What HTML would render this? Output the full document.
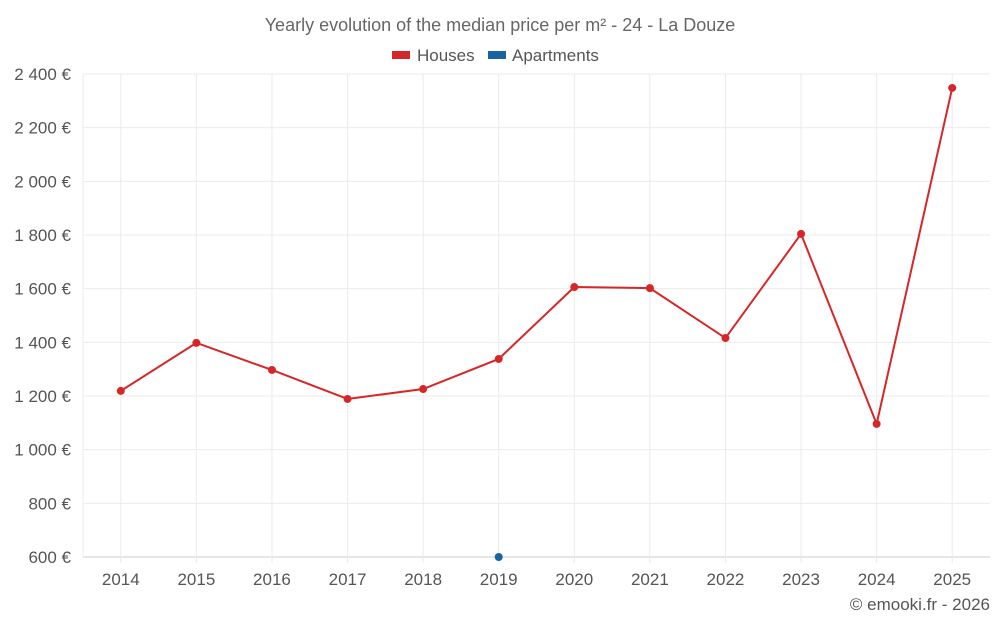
<!DOCTYPE html>
<html><head><meta charset="utf-8"><style>
body{margin:0;background:#fff;font-family:"Liberation Sans",sans-serif;}
svg text{font-family:"Liberation Sans",sans-serif;}
</style></head><body>
<svg id="c" width="1000" height="625">
<text x="500" y="31" text-anchor="middle" font-size="18" fill="#666">Yearly evolution of the median price per m² - 24 - La Douze</text>
<g>
<rect x="392" y="51" width="18" height="8" fill="#d62728"/>
<text x="417" y="61" font-size="17" fill="#555">Houses</text>
<rect x="488" y="51" width="18" height="8" fill="#1764a0"/>
<text x="512" y="61" font-size="17" fill="#555">Apartments</text>
</g>
<g id="grid"></g><g id="axes"></g><g id="marks"></g>
<text x="990" y="610" text-anchor="end" font-size="17" fill="#555">© emooki.fr - 2026</text>
</svg>
<script>
const categories=["2014","2015","2016","2017","2018","2019","2020","2021","2022","2023","2024","2025"];
const houses=[1219,1398,1297,1189,1226,1338,1606,1602,1416,1804,1096,2348];
const apartments=[null,null,null,null,null,600,null,null,null,null,null,null];
const yTicks=[600,800,1000,1200,1400,1600,1800,2000,2200,2400];
const yTickLabels=["600 €","800 €","1 000 €","1 200 €","1 400 €","1 600 €","1 800 €","2 000 €","2 200 €","2 400 €"];
const L=83,R=990,T=74,B=557,ymin=600,ymax=2400;
const bw=(R-L)/categories.length;
const xs=i=>L+bw*(i+0.5);
const ys=v=>B-(v-ymin)/(ymax-ymin)*(B-T);
const NS="http://www.w3.org/2000/svg";
function mk(p,t,a){const e=document.createElementNS(NS,t);for(const k in a)e.setAttribute(k,a[k]);p.appendChild(e);return e;}
const grid=document.getElementById('grid'),axes=document.getElementById('axes'),marks=document.getElementById('marks');
yTicks.forEach((v,i)=>{
 const l=mk(grid,'line',{x1:L,x2:R,y1:ys(v),y2:ys(v),stroke:i==0?'#ccc':'#ebebeb'});
 
 
 const t=mk(axes,'text',{x:71,y:ys(v)+6,'text-anchor':'end','font-size':17,fill:'#555'});
 t.textContent=yTickLabels[i];
 
 
});
mk(grid,'line',{x1:L,x2:L,y1:T,y2:B,stroke:'#ebebeb'});
categories.forEach((c,i)=>{
 const l=mk(grid,'line',{x1:xs(i),x2:xs(i),y1:T,y2:B+6,stroke:'#ebebeb'});
 
 
 const t=mk(axes,'text',{x:xs(i),y:585,'text-anchor':'middle','font-size':17,fill:'#555'});
 t.textContent=c;
 
 
});
const pl=mk(marks,'polyline',{points:houses.map((v,i)=>xs(i)+','+ys(v)).join(' '),fill:'none',stroke:'#d62728','stroke-width':2});


houses.forEach((v,i)=>{
 const c=mk(marks,'circle',{cx:xs(i),cy:ys(v),r:4,fill:'#d62728'});
 
 
});
apartments.forEach((v,i)=>{
 if(v==null)return;
 const c=mk(marks,'circle',{cx:xs(i),cy:ys(v),r:4,fill:'#1764a0'});
 
 
});
</script>
</body></html>
